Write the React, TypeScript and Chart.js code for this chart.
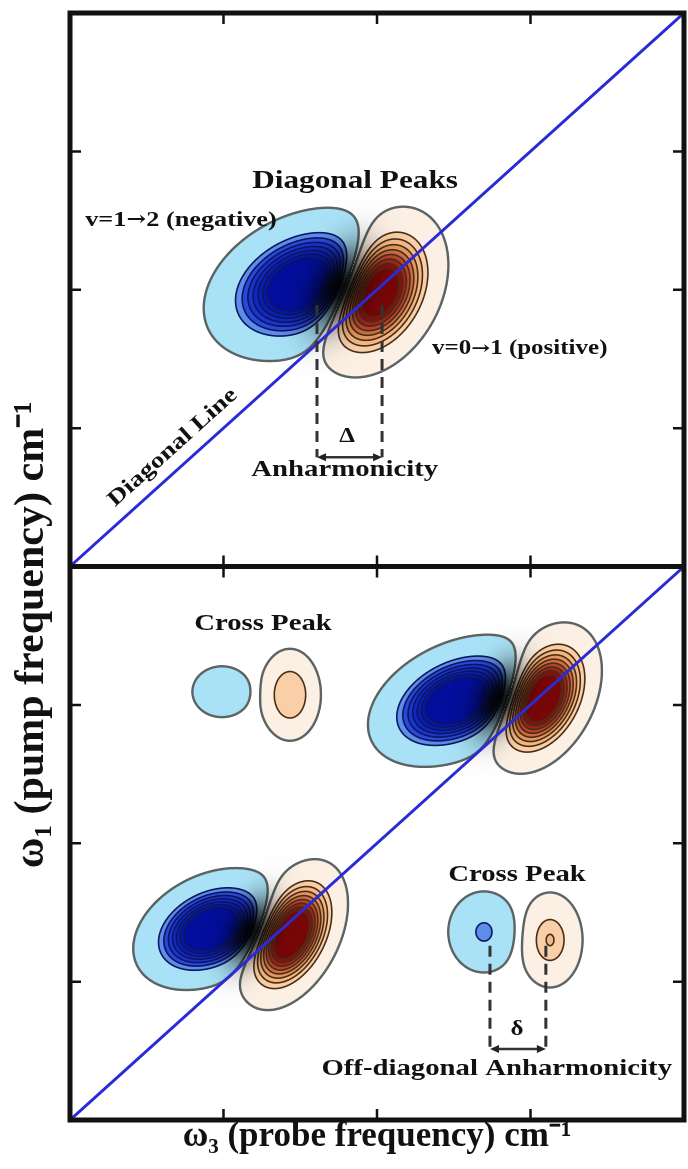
import React, { useEffect, useRef } from 'react';
import { Chart, registerables } from 'chart.js';

Chart.register(...registerables);

// ---------- axes ----------
const X_MIN = 0;
const X_MAX = 4;
const Y_MIN = 0;
const Y_MAX = 8; // lower panel 0–4, upper panel 4–8
const PANEL_DIVIDER = 4;
const X_TITLE = 'ω₃ (probe frequency) cm⁻¹';
const Y_TITLE = 'ω₁ (pump frequency) cm⁻¹' + '\u00a0'.repeat(13);

// ---------- diagonal lines (one per panel) ----------
const diagLowerX = [0, 4];
const diagLowerY = [0, 4];
const diagUpperX = [0, 4];
const diagUpperY = [4, 8];

// ---------- peak lobes ----------
// 0/1 upper diagonal pair, 2/3 lower-right diagonal pair, 4/5 lower-left diagonal pair,
// 6/7 upper-left cross peak, 8/9 lower-right cross peak
const lobeX = [1.51, 2.0, 2.52, 3.075, 0.92, 1.44, 0.99, 1.433, 2.697, 3.127];
const lobeY = [6.04, 5.99, 3.03, 3.05, 1.38, 1.34, 3.095, 3.073, 1.359, 1.301];
const lobeAmp = [-1.35, 1.35, -1.35, 1.35, -1.35, 1.35, -0.2, 0.33, -0.33, 0.36];
const lobeMajor = [0.27, 0.255, 0.245, 0.225, 0.215, 0.225, 0.134, 0.207, 0.151, 0.173];
const lobeMinor = [0.19, 0.165, 0.16, 0.135, 0.15, 0.125, 0.128, 0.126, 0.12, 0.107];
const lobeAngle = [33, 67, 31, 67, 33, 67, 0, 90, 90, 90];
const lobeShape = [1, 1, 1, 1, 1, 1, 1.4, 1.4, 1, 1];

// diagonal pairs and their dark overlap along the nodal line
const pairBlue = [0, 2, 4];
const pairRed = [1, 3, 5];
const pairShadowLen = [0.21, 0.18, 0.17];
const pairShadowR = [0.11, 0.095, 0.09];
const pairShadowAngle = [68, 68, 68];
const pairShadow = [0.95, 0.95, 0.95];

// ---------- contour levels ----------
const negLevels = [0.05, 0.3, 0.4, 0.5, 0.6, 0.7, 0.8, 0.9];
const negColors = ['#a9e2f7', '#5b8de9', '#2a48d8', '#1a34cc', '#1028c0', '#0a1eb4', '#0616a8', '#020e9c'];
const posLevels = [0.05, 0.25, 0.35, 0.45, 0.55, 0.65, 0.75, 0.85, 0.95];
const posColors = ['#fcefe4', '#f8cfa6', '#f2b884', '#e4965e', '#cf6c42', '#b8442c', '#a0241a', '#8a0e0e', '#780606'];

// ---------- annotations ----------
const labelText = [
  'Diagonal Peaks',
  'v=1→2 (negative)',
  'v=0→1 (positive)',
  'Diagonal Line',
  'Δ',
  'Anharmonicity',
  'Cross Peak',
  'Cross Peak',
  'δ',
  'Off-diagonal Anharmonicity',
];
const labelX = [1.857, 0.723, 2.93, 0.67, 1.805, 1.79, 1.257, 2.912, 2.912, 2.78];
const labelY = [6.78, 6.5, 5.57, 4.86, 4.938, 4.7, 3.586, 1.772, 0.651, 0.369];
const labelSize = [25, 21, 20, 22, 20, 23, 23, 23, 20, 23];
const labelOnDiagonal = [false, false, false, true, false, false, false, false, false, false];

const markX1 = [1.609, 2.736];
const markX2 = [2.033, 3.1];
const markYTop = [5.89, 1.26];
const markYArrow = [4.79, 0.513];

const SERIF = '"Liberation Serif", "Times New Roman", serif';
const ARROW_FONT = '"DejaVu Serif", "DejaVu Sans", serif';
const TEXT_STRETCH = 1.25;

function hexRgb(h: string): number[] {
  const n = parseInt(h.slice(1), 16);
  return [(n >> 16) & 255, (n >> 8) & 255, n & 255];
}

const fieldPlugin = {
  id: 'field',
  beforeDatasetsDraw(chart: any) {
    const { ctx, chartArea: a, scales } = chart;
    const xs = scales.x;
    const ys = scales.y;
    const L = Math.round(a.left);
    const T = Math.round(a.top);
    const W = Math.round(a.right) - L;
    const H = Math.round(a.bottom) - T;
    const xv = new Float64Array(W);
    const yv = new Float64Array(H);
    for (let i = 0; i < W; i++) xv[i] = xs.getValueForPixel(L + i + 0.5);
    for (let j = 0; j < H; j++) yv[j] = ys.getValueForPixel(T + j + 0.5);

    const box = (cx: number, cy: number, R: number) => [
      Math.max(0, Math.floor(xs.getPixelForValue(cx - R) - L)),
      Math.min(W - 1, Math.ceil(xs.getPixelForValue(cx + R) - L)),
      Math.max(0, Math.floor(ys.getPixelForValue(cy + R) - T)),
      Math.min(H - 1, Math.ceil(ys.getPixelForValue(cy - R) - T)),
    ];

    const f = new Float32Array(W * H);
    for (let k = 0; k < lobeX.length; k++) {
      const cx = lobeX[k], cy = lobeY[k], A = lobeAmp[k];
      const s1 = lobeMajor[k], s2 = lobeMinor[k], p = lobeShape[k];
      const th = (lobeAngle[k] * Math.PI) / 180;
      const c = Math.cos(th), s = Math.sin(th);
      const [i0, i1, j0, j1] = box(cx, cy, 4.5 * Math.max(s1, s2));
      for (let j = j0; j <= j1; j++) {
        const dy = yv[j] - cy;
        for (let i = i0; i <= i1; i++) {
          const dx = xv[i] - cx;
          const u = (dx * c + dy * s) / s1;
          const v = (-dx * s + dy * c) / s2;
          const q = u * u + v * v;
          f[j * W + i] += A * Math.exp(-0.5 * (p === 1 ? q : Math.pow(q, p)));
        }
      }
    }

    const sh = new Float32Array(W * H);
    for (let m = 0; m < pairBlue.length; m++) {
      const cx = (lobeX[pairBlue[m]] + lobeX[pairRed[m]]) / 2;
      const cy = (lobeY[pairBlue[m]] + lobeY[pairRed[m]]) / 2;
      const s1 = pairShadowLen[m], s2 = pairShadowR[m];
      const th = (pairShadowAngle[m] * Math.PI) / 180;
      const c = Math.cos(th), s = Math.sin(th);
      const [i0, i1, j0, j1] = box(cx, cy, 4 * Math.max(s1, s2));
      for (let j = j0; j <= j1; j++) {
        const dy = yv[j] - cy;
        for (let i = i0; i <= i1; i++) {
          const dx = xv[i] - cx;
          const u = (dx * c + dy * s) / s1;
          const v = (-dx * s + dy * c) / s2;
          const val = pairShadow[m] * Math.exp(-0.5 * (u * u + v * v));
          const idx = j * W + i;
          if (val > sh[idx]) sh[idx] = val;
        }
      }
    }

    const negRGB = negColors.map(hexRgb);
    const posRGB = posColors.map(hexRgb);
    const outerLine = hexRgb('#5b6363');
    const negLine = hexRgb('#0c1560');
    const posLine = hexRgb('#4a2c16');

    const off = document.createElement('canvas');
    off.width = W;
    off.height = H;
    const octx = off.getContext('2d')!;
    const img = octx.createImageData(W, H);
    const d = img.data;
    for (let j = 0; j < H; j++) {
      for (let i = 0; i < W; i++) {
        const idx = j * W + i;
        const val = f[idx];
        let r = 255, g = 255, b = 255;
        const av = Math.abs(val);
        if (av > 0.01) {
          const fl = f[idx - (i > 0 ? 1 : 0)];
          const fr = f[idx + (i < W - 1 ? 1 : 0)];
          const fu = f[idx - (j > 0 ? W : 0)];
          const fd = f[idx + (j < H - 1 ? W : 0)];
          const gx = (fr - fl) / 2;
          const gy = (fd - fu) / 2;
          const gm = Math.sqrt(gx * gx + gy * gy) + 1e-9;
          const levels = val < 0 ? negLevels : posLevels;
          const cols = val < 0 ? negRGB : posRGB;
          let band = -1;
          for (let n = 0; n < levels.length; n++) if (av >= levels[n]) band = n;
          if (band >= 0) {
            r = cols[band][0];
            g = cols[band][1];
            b = cols[band][2];
          }
          let la = 0;
          let lc = outerLine;
          for (let n = 0; n < levels.length; n++) {
            const dist = Math.abs(av - levels[n]) / gm;
            const w = n === 0 ? 2.4 : 1.6;
            const al = Math.min(1, Math.max(0, w / 2 + 0.5 - dist));
            if (al > la) {
              la = al;
              lc = n === 0 ? outerLine : val < 0 ? negLine : posLine;
            }
          }
          r += (lc[0] - r) * la;
          g += (lc[1] - g) * la;
          b += (lc[2] - b) * la;
        }
        const s = sh[idx];
        if (s > 0.001) {
          r *= 1 - s;
          g *= 1 - s;
          b *= 1 - s;
        }
        d[idx * 4] = r;
        d[idx * 4 + 1] = g;
        d[idx * 4 + 2] = b;
        d[idx * 4 + 3] = 255;
      }
    }
    octx.putImageData(img, 0, 0);
    ctx.save();
    ctx.drawImage(off, L, T);
    ctx.restore();
  },
};

function drawArrowHead(ctx: CanvasRenderingContext2D, x: number, y: number, dir: number) {
  ctx.beginPath();
  ctx.moveTo(x, y);
  ctx.lineTo(x - dir * 9, y - 4);
  ctx.lineTo(x - dir * 9, y + 4);
  ctx.closePath();
  ctx.fill();
}

// bold serif text centred at the origin; the arrow glyph comes from a font with a full-size one
function drawLabel(ctx: CanvasRenderingContext2D, text: string, size: number) {
  const parts = text.split(/(→)/).filter((p) => p.length > 0);
  const fonts = parts.map((p) => (p === '→' ? `bold ${size * 0.9}px ${ARROW_FONT}` : `bold ${size}px ${SERIF}`));
  const widths = parts.map((p, n) => {
    ctx.font = fonts[n];
    return ctx.measureText(p).width;
  });
  const total = widths.reduce((s, w) => s + w, 0);
  let x = -total / 2;
  ctx.textAlign = 'left';
  ctx.textBaseline = 'middle';
  parts.forEach((p, n) => {
    ctx.font = fonts[n];
    ctx.fillText(p, x, 0);
    x += widths[n];
  });
}

const framePlugin = {
  id: 'frame',
  afterDatasetsDraw(chart: any) {
    const { ctx, chartArea: a, scales } = chart;
    const xs = scales.x;
    const ys = scales.y;
    ctx.save();
    // anharmonicity markers
    ctx.strokeStyle = '#333';
    ctx.fillStyle = '#222';
    for (let m = 0; m < markX1.length; m++) {
      const p1 = xs.getPixelForValue(markX1[m]);
      const p2 = xs.getPixelForValue(markX2[m]);
      const yt = ys.getPixelForValue(markYTop[m]);
      const ya = ys.getPixelForValue(markYArrow[m]);
      ctx.lineWidth = 3;
      ctx.setLineDash([11, 7]);
      ctx.beginPath();
      ctx.moveTo(p1, yt);
      ctx.lineTo(p1, ya);
      ctx.moveTo(p2, yt);
      ctx.lineTo(p2, ya);
      ctx.stroke();
      ctx.setLineDash([]);
      ctx.lineWidth = 2.5;
      ctx.beginPath();
      ctx.moveTo(p1 + 4, ya);
      ctx.lineTo(p2 - 4, ya);
      ctx.stroke();
      drawArrowHead(ctx, p1, ya, -1);
      drawArrowHead(ctx, p2, ya, 1);
    }

    // frame
    ctx.strokeStyle = '#111';
    ctx.lineWidth = 5;
    ctx.strokeRect(a.left, a.top, a.right - a.left, a.bottom - a.top);
    const ym = ys.getPixelForValue(PANEL_DIVIDER);
    ctx.beginPath();
    ctx.moveTo(a.left, ym);
    ctx.lineTo(a.right, ym);
    ctx.stroke();

    // inward ticks
    ctx.lineWidth = 2.5;
    const tl = 11;
    ctx.beginPath();
    for (const t of xs.ticks) {
      if (t.value <= X_MIN || t.value >= X_MAX) continue;
      const px = xs.getPixelForValue(t.value);
      ctx.moveTo(px, a.top);
      ctx.lineTo(px, a.top + tl);
      ctx.moveTo(px, ym - tl);
      ctx.lineTo(px, ym + tl);
      ctx.moveTo(px, a.bottom);
      ctx.lineTo(px, a.bottom - tl);
    }
    for (const t of ys.ticks) {
      if (t.value <= Y_MIN || t.value >= Y_MAX || t.value === PANEL_DIVIDER) continue;
      const py = ys.getPixelForValue(t.value);
      ctx.moveTo(a.left, py);
      ctx.lineTo(a.left + tl, py);
      ctx.moveTo(a.right, py);
      ctx.lineTo(a.right - tl, py);
    }
    ctx.stroke();

    // labels
    const diagAngle = Math.atan2(
      ys.getPixelForValue(diagLowerY[1]) - ys.getPixelForValue(diagLowerY[0]),
      xs.getPixelForValue(diagLowerX[1]) - xs.getPixelForValue(diagLowerX[0])
    );
    ctx.fillStyle = '#111';
    for (let n = 0; n < labelText.length; n++) {
      ctx.save();
      ctx.translate(xs.getPixelForValue(labelX[n]), ys.getPixelForValue(labelY[n]));
      if (labelOnDiagonal[n]) ctx.rotate(diagAngle);
      ctx.scale(TEXT_STRETCH, 1);
      drawLabel(ctx, labelText[n], labelSize[n]);
      ctx.restore();
    }
    ctx.restore();
  },
};

export default function App() {
  const ref = useRef<HTMLCanvasElement>(null);
  useEffect(() => {
    const line = (xs: number[], ysv: number[]) => ({
      data: xs.map((x, i) => ({ x, y: ysv[i] })),
      showLine: true,
      borderColor: '#2b2bd6',
      borderWidth: 3,
      pointRadius: 0,
      fill: false,
    });
    const chart = new Chart(ref.current!, {
      type: 'scatter',
      data: {
        datasets: [line(diagLowerX, diagLowerY), line(diagUpperX, diagUpperY)],
      },
      options: {
        responsive: false,
        animation: false,
        devicePixelRatio: 1,
        events: [],
        layout: { padding: { top: 13, right: 4, bottom: 0, left: 0 } },
        plugins: { legend: { display: false }, tooltip: { enabled: false } },
        scales: {
          x: {
            type: 'linear',
            min: X_MIN,
            max: X_MAX,
            ticks: { display: false, stepSize: 1 },
            grid: { display: false },
            border: { display: false },
            title: {
              display: true,
              text: X_TITLE,
              color: '#111',
              font: { family: SERIF, size: 35, weight: 'bold' },
              padding: { top: 0, bottom: 11 },
            },
            afterFit: (s: any) => {
              s.height = 49;
            },
          },
          y: {
            type: 'linear',
            min: Y_MIN,
            max: Y_MAX,
            ticks: { display: false, stepSize: 1 },
            grid: { display: false },
            border: { display: false },
            title: {
              display: true,
              text: Y_TITLE,
              color: '#111',
              font: { family: SERIF, size: 42, weight: 'bold' },
              padding: { top: 7, bottom: 0 },
            },
            afterFit: (s: any) => {
              s.width = 70;
            },
          },
        },
      },
      plugins: [fieldPlugin, framePlugin],
    } as any);
    return () => chart.destroy();
  }, []);
  return (
    <div style={{ position: 'absolute', left: 0, top: 0, width: 688, height: 1169, background: '#fff' }}>
      <canvas ref={ref} width={688} height={1169} style={{ display: 'block', width: 688, height: 1169 }} />
    </div>
  );
}
